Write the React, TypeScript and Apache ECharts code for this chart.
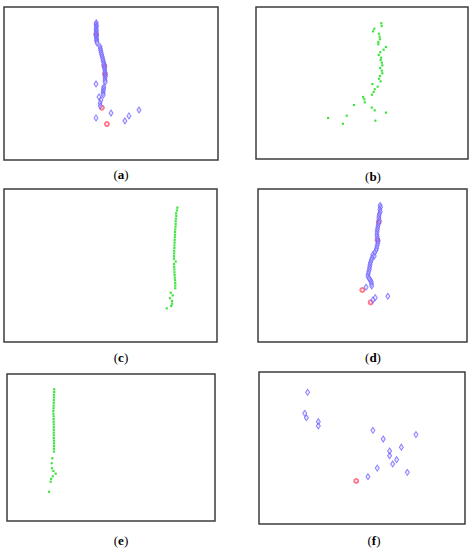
import React, { useEffect, useRef } from "react";
import * as echarts from "echarts";

// Panel (a): blue diamonds and red circles
const aBlue: number[][] = [
  [43.1, 89.7], [43.0, 88.7], [43.2, 87.7], [43.1, 86.7], [43.0, 85.6], [43.2, 84.6], [43.1, 83.6],
  [43.0, 82.5], [43.2, 81.5], [43.1, 80.5], [43.3, 79.4], [43.2, 78.4], [43.4, 77.4], [43.5, 76.4],
  [44.9, 74.1], [45.0, 72.8], [45.2, 71.5], [45.4, 70.2], [45.6, 68.9], [45.9, 67.6], [46.1, 66.3],
  [46.3, 65.0], [46.6, 63.7], [46.7, 62.4], [46.9, 61.1], [47.0, 59.8], [47.1, 58.5], [47.2, 57.2],
  [47.3, 55.9], [47.3, 54.6], [47.2, 53.3], [47.2, 52.0], [47.3, 50.9],
  [46.6, 47.7], [46.5, 46.4], [46.4, 45.1], [46.3, 43.8], [46.4, 42.5],
  [43.0, 49.7], [44.4, 41.2], [45.3, 39.2], [44.9, 37.3], [45.0, 35.3],
  [50.0, 30.7], [43.0, 27.5], [58.4, 28.8], [56.5, 25.5], [63.1, 32.7],
];
const aRed: number[][] = [[45.7, 34.2], [48.1, 23.5], [43.1, 82.0], [46.9, 61.5], [47.2, 56.0]];

// Panel (b): green squares
const bGreen: number[][] = [
  [59.1, 89.3], [59.3, 87.5], [55.8, 85.7], [55.2, 84.0], [58.0, 82.4], [58.3, 80.5], [58.5, 78.8],
  [57.7, 77.0], [57.7, 75.5], [61.3, 73.7], [60.2, 71.9], [58.6, 70.2], [57.9, 68.4], [59.0, 66.6],
  [58.8, 65.1], [59.4, 63.4], [59.6, 61.6], [58.6, 59.9], [59.3, 58.1], [59.6, 56.4], [58.5, 54.6],
  [58.0, 52.8], [58.8, 51.1], [54.9, 49.3], [57.4, 47.6], [56.0, 45.9], [55.5, 44.1], [54.7, 42.3],
  [50.5, 40.8], [51.1, 39.3], [51.3, 37.3], [46.2, 35.5], [54.6, 33.8], [56.0, 32.0], [61.3, 30.5],
  [42.8, 28.5], [34.0, 27.0], [56.3, 25.2], [41.0, 23.2],
];

// Panel (c): green squares
const cGreen: number[][] = [
  [81.4, 87.8], [81.2, 86.0], [80.8, 84.1], [80.9, 82.4], [80.7, 80.6], [80.6, 78.9], [80.6, 77.1],
  [80.5, 75.4], [80.4, 73.6], [80.3, 71.9], [80.3, 70.1], [80.2, 68.4], [80.1, 66.6], [80.1, 64.9],
  [80.0, 63.1], [80.0, 61.4], [79.9, 59.6], [79.9, 57.9], [79.8, 56.1], [79.8, 54.4], [80.6, 52.6],
  [79.8, 50.9], [79.9, 49.1], [80.0, 47.4], [80.0, 45.6], [80.1, 43.9], [80.2, 42.1], [80.3, 40.4],
  [80.4, 38.6], [80.4, 36.9], [80.4, 35.1],
  [78.3, 32.2], [79.2, 30.5], [77.9, 28.6], [78.9, 26.8], [78.9, 25.0], [78.5, 23.5], [76.4, 22.0],
];

// Panel (d): blue diamonds and red circles
const dBlue: number[][] = [
  [58.4, 89.3], [58.6, 88.0], [58.3, 86.6], [58.5, 85.2], [58.1, 83.8], [57.9, 82.4], [57.8, 81.0],
  [58.0, 79.5], [57.8, 78.0], [57.5, 76.5], [57.3, 75.0], [57.1, 73.5], [57.0, 72.0], [56.9, 70.5],
  [57.0, 69.0], [57.2, 67.5], [57.4, 66.0], [57.3, 64.5], [57.0, 63.0], [56.8, 61.5], [56.5, 60.0],
  [55.8, 58.5], [54.9, 57.0], [55.6, 56.2], [54.6, 55.0], [54.2, 53.6], [53.8, 52.0], [53.6, 50.5],
  [53.4, 49.0], [53.3, 47.5], [53.0, 46.0], [52.7, 44.5], [52.6, 43.0], [53.1, 41.6], [53.7, 40.5],
  [54.2, 39.4], [54.3, 38.0], [54.4, 36.6],
  [51.7, 35.8], [56.1, 29.0], [55.0, 27.5], [62.1, 29.9],
];
const dRed: number[][] = [[49.9, 34.0], [53.9, 25.9], [57.8, 78.5], [57.2, 66.5]];

// Panel (e): green squares
const eGreen: number[][] = [
  [22.7, 89.6], [22.7, 87.8], [22.6, 85.9], [22.6, 84.1], [22.5, 82.2], [22.5, 80.4], [22.4, 78.5],
  [22.4, 76.7], [22.3, 74.9], [22.3, 73.0], [22.4, 71.2], [22.4, 69.3], [22.4, 67.5], [22.5, 65.7],
  [22.5, 63.8], [22.5, 62.0], [22.5, 60.1], [22.5, 58.3], [22.5, 56.4], [22.6, 54.6], [22.6, 52.8],
  [22.6, 50.9], [22.6, 49.1], [22.6, 47.2],
  [21.8, 42.7], [21.5, 39.3], [21.6, 35.9], [22.3, 34.0], [23.4, 32.2], [22.0, 30.4], [21.2, 28.6],
  [21.0, 26.7], [20.2, 19.9],
];

// Panel (f): blue diamonds and one red circle
const fBlue: number[][] = [
  [23.6, 86.6], [22.2, 72.8], [23.0, 69.9], [28.8, 67.3], [28.8, 64.5], [55.3, 61.6], [76.2, 58.8],
  [60.3, 55.9], [69.1, 50.5], [63.4, 48.0], [63.4, 44.9], [66.8, 42.3], [64.9, 39.5], [57.4, 36.8],
  [72.0, 34.0], [52.9, 31.1],
];
const fRed: number[][] = [[47.2, 28.3]];

const panelLabels = ["a", "b", "c", "d", "e", "f"];

const grids = [
  { left: 4, top: 7, width: 214, height: 153 },
  { left: 256, top: 7, width: 212, height: 152 },
  { left: 4, top: 189, width: 213, height: 153 },
  { left: 258, top: 189, width: 209, height: 153 },
  { left: 7, top: 374, width: 208, height: 147 },
  { left: 259, top: 372, width: 206, height: 152 },
];
const labelPos = [
  [121, 174], [373, 176], [121, 357], [373, 357], [121, 540], [374, 540],
];

const blueStyle = {
  symbol: "diamond",
  symbolSize: [4, 6],
  itemStyle: { color: "rgba(205,205,255,0.55)", borderColor: "#6e62ff", borderWidth: 1 },
};
const redStyle = {
  symbol: "emptyCircle",
  symbolSize: 4,
  itemStyle: { color: "#ff5870", borderWidth: 1 },
};
const greenStyle = {
  symbol: "rect",
  symbolSize: 2.2,
  itemStyle: { color: "#12dc12" },
};

export default function App() {
  const ref = useRef<HTMLDivElement>(null);
  useEffect(() => {
    if (!ref.current) return;
    const chart = echarts.init(ref.current, null, { renderer: "svg" });
    const panelSeries: { data: number[][]; style: any }[][] = [
      [{ data: aRed, style: redStyle }, { data: aBlue, style: blueStyle }],
      [{ data: bGreen, style: greenStyle }],
      [{ data: cGreen, style: greenStyle }],
      [{ data: dRed, style: redStyle }, { data: dBlue, style: blueStyle }],
      [{ data: eGreen, style: greenStyle }],
      [{ data: fBlue, style: blueStyle }, { data: fRed, style: redStyle }],
    ];
    const series: any[] = [];
    panelSeries.forEach((list, i) => {
      list.forEach((s) => {
        series.push({
          type: "scatter",
          xAxisIndex: i,
          yAxisIndex: i,
          data: s.data,
          ...s.style,
          silent: true,
        });
      });
    });
    chart.setOption({
      animation: false,
      backgroundColor: "#ffffff",
      grid: grids.map((g) => ({
        ...g,
        show: true,
        borderColor: "#3c3c3c",
        borderWidth: 1.5,
        backgroundColor: "#ffffff",
        containLabel: false,
      })),
      xAxis: grids.map((_, i) => ({
        type: "value",
        gridIndex: i,
        min: 0,
        max: 100,
        show: false,
      })),
      yAxis: grids.map((_, i) => ({
        type: "value",
        gridIndex: i,
        min: 0,
        max: 100,
        show: false,
      })),
      series,
      graphic: panelLabels.map((l, i) => ({
        type: "text",
        x: labelPos[i][0],
        y: labelPos[i][1],
        style: {
          text: `{p|(}{b|${l}}{p|)}`,
          align: "center",
          verticalAlign: "middle",
          rich: {
            p: { fontFamily: "Liberation Serif", fontSize: 13, fill: "#000" },
            b: { fontFamily: "Liberation Serif", fontSize: 13, fontWeight: "bold", fill: "#000" },
          },
        },
      })),
    });
    return () => chart.dispose();
  }, []);
  return (
    <div
      ref={ref}
      style={{ position: "fixed", left: 0, top: 0, width: 473, height: 550, background: "#fff" }}
    />
  );
}
